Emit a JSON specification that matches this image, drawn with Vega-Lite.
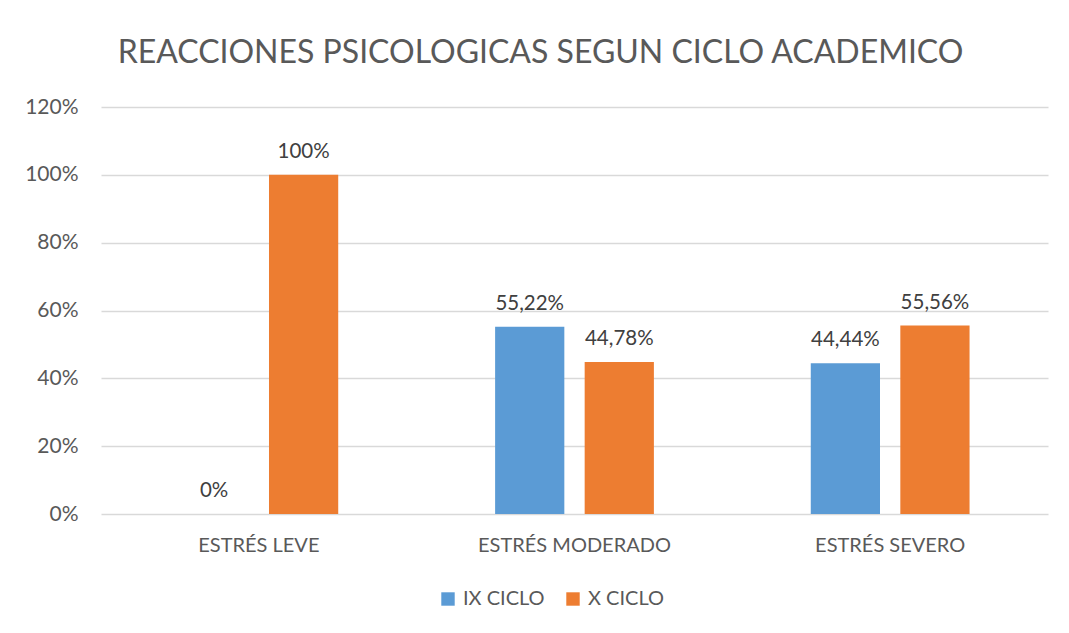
{
  "$schema": "https://vega.github.io/schema/vega-lite/v6.json",
  "width": 947,
  "height": 407,
  "autosize": {"type": "none"},
  "padding": {"left": 101, "top": 107, "right": 21, "bottom": 112},
  "background": "white",
  "config": {
    "font": "Lato",
    "view": {"stroke": null},
    "locale": {"number": {"decimal": ",", "thousands": ".", "grouping": [3], "currency": ["", " €"]}}
  },
  "title": {
    "text": "REACCIONES PSICOLOGICAS SEGUN CICLO ACADEMICO",
    "font": "Lato",
    "fontSize": 32,
    "fontWeight": "normal",
    "color": "#595959",
    "anchor": "middle",
    "frame": "group",
    "dx": -34,
    "offset": 26
  },
  "data": {
    "values": [
      {"categoria": "ESTRÉS LEVE", "ciclo": "IX CICLO", "valor": 0},
      {"categoria": "ESTRÉS LEVE", "ciclo": "X CICLO", "valor": 1.0},
      {"categoria": "ESTRÉS MODERADO", "ciclo": "IX CICLO", "valor": 0.5522},
      {"categoria": "ESTRÉS MODERADO", "ciclo": "X CICLO", "valor": 0.4478},
      {"categoria": "ESTRÉS SEVERO", "ciclo": "IX CICLO", "valor": 0.4444},
      {"categoria": "ESTRÉS SEVERO", "ciclo": "X CICLO", "valor": 0.5556}
    ]
  },
  "encoding": {
    "x": {
      "field": "categoria",
      "type": "nominal",
      "sort": ["ESTRÉS LEVE", "ESTRÉS MODERADO", "ESTRÉS SEVERO"],
      "scale": {"paddingInner": 0.497, "paddingOuter": 0.2485},
      "axis": {
        "title": null,
        "labelAngle": 0,
        "labelFontSize": 20,
        "labelColor": "#595959",
        "labelPadding": 21,
        "labelLimit": 0,
        "ticks": false,
        "domain": false,
        "grid": false
      }
    },
    "xOffset": {
      "field": "ciclo",
      "type": "nominal",
      "sort": ["IX CICLO", "X CICLO"],
      "scale": {"paddingInner": 0.227, "paddingOuter": 0}
    },
    "y": {
      "field": "valor",
      "type": "quantitative",
      "scale": {"domain": [0, 1.2], "nice": false},
      "axis": {
        "title": null,
        "format": ".0%",
        "values": [0, 0.2, 0.4, 0.6, 0.8, 1.0, 1.2],
        "labelFontSize": 21,
        "labelColor": "#595959",
        "labelPadding": 23,
        "ticks": false,
        "domain": false,
        "gridColor": "#d9d9d9",
        "gridWidth": 1.3
      }
    }
  },
  "layer": [
    {
      "mark": {"type": "bar"},
      "encoding": {
        "color": {
          "field": "ciclo",
          "type": "nominal",
          "sort": ["IX CICLO", "X CICLO"],
          "scale": {"domain": ["IX CICLO", "X CICLO"], "range": ["#5b9bd5", "#ed7d31"]},
          "legend": {
            "title": null,
            "orient": "none",
            "direction": "horizontal",
            "legendX": 337,
            "legendY": 482,
            "symbolType": "square",
            "symbolSize": 180,
            "symbolStrokeWidth": 0,
            "labelFontSize": 20,
            "labelColor": "#595959",
            "labelOffset": 5,
            "columnPadding": 18
          }
        }
      }
    },
    {
      "mark": {"type": "text", "baseline": "middle", "dy": -23, "fontSize": 20.5, "color": "#404040"},
      "encoding": {
        "text": {"field": "valor", "type": "quantitative", "format": ".2~%"}
      }
    }
  ]
}
